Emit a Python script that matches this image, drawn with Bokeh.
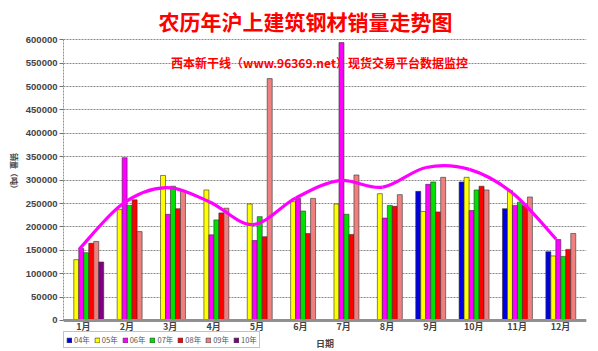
import numpy as np
from bokeh.plotting import figure
from bokeh.models import Range1d, FixedTicker, Label, Legend, LegendItem, NumeralTickFormatter
from bokeh.embed import file_html
from bokeh.resources import INLINE

# ---------------- data ----------------
months = ["1月", "2月", "3月", "4月", "5月", "6月", "7月", "8月", "9月", "10月", "11月", "12月"]
series_names = ["04年", "05年", "06年", "07年", "08年", "09年", "10年"]
nan = float("nan")
s04 = [0, 0, 0, 0, 0, 0, 0, 0, 276000, 296000, 239000, 147000]
s05 = [130000, 237000, 310000, 279000, 249000, 254000, 249000, 271000, 233000, 306000, 278000, 138000]
s06 = [154000, 348000, 227000, 183000, 171000, 261000, 594000, 219000, 291000, 235000, 246000, 173000]
s07 = [145000, 246000, 287000, 215000, 222000, 234000, 227000, 246000, 296000, 279000, 253000, 137000]
s08 = [165000, 258000, 239000, 230000, 179000, 186000, 184000, 244000, 232000, 287000, 245000, 152000]
s09 = [169000, 190000, 278000, 240000, 517000, 261000, 311000, 269000, 306000, 279000, 264000, 186000]
s10 = [125000, nan, nan, nan, nan, nan, nan, nan, nan, nan, nan, nan]
trend = [152000, 249000, 284000, 254000, 205000, 262000, 299000, 285000, 327000, 323000, 272000, 174000]
y_ticks = [0, 50000, 100000, 150000, 200000, 250000, 300000, 350000, 400000, 450000, 500000, 550000, 600000]

colors = ["#0000E0", "#FFFF00", "#FF00FF", "#00E000", "#FF0000", "#F08080", "#800080"]
all_series = [s04, s05, s06, s07, s08, s09, s10]

W, H = 598, 351
p = figure(width=W, height=H, output_backend="svg", toolbar_location=None,
           x_range=Range1d(0.54, 12.6), y_range=Range1d(-59880, 604900),
           min_border_left=62, min_border_right=12, min_border_top=37, min_border_bottom=3)
p.outline_line_color = None
p.background_fill_color = "white"
p.border_fill_color = "white"
p.styles = {"outline": "1px dotted #999999", "outline-offset": "-2px"}

p.title.text = "农历年沪上建筑钢材销量走势图"
p.title.align = "left"
p.title.offset = 95
p.title.standoff = 4
p.title.text_font = "Noto Sans CJK SC"
p.title.text_font_size = "21px"
p.title.text_font_style = "bold"
p.title.text_color = "#FF0000"

x_idx = np.arange(1, 13, dtype=float)
bw = 0.115
shift = 0.065
renderers = []
for i, (name, vals, c) in enumerate(zip(series_names, all_series, colors)):
    xs = x_idx + (i - 3) * bw + shift
    r = p.vbar(x=xs, top=np.array(vals, dtype=float), bottom=0, width=bw,
               fill_color=c, line_color="#303030", line_width=0.6)
    renderers.append((name, r))

# smooth trend line (Catmull-Rom -> bezier through the read points)
tx = x_idx - 0.1
ty = np.array(trend, dtype=float)
n = len(tx)
x0s, y0s, x1s, y1s, cx0s, cy0s, cx1s, cy1s = [], [], [], [], [], [], [], []
for i in range(n - 1):
    a = max(i - 1, 0)
    d = min(i + 2, n - 1)
    x0s.append(tx[i]); y0s.append(ty[i]); x1s.append(tx[i + 1]); y1s.append(ty[i + 1])
    cx0s.append(tx[i] + (tx[i + 1] - tx[a]) / 6); cy0s.append(ty[i] + (ty[i + 1] - ty[a]) / 6)
    cx1s.append(tx[i + 1] - (tx[d] - tx[i]) / 6); cy1s.append(ty[i + 1] - (ty[d] - ty[i]) / 6)
p.bezier(x0=x0s, y0=y0s, x1=x1s, y1=y1s, cx0=cx0s, cy0=cy0s, cx1=cx1s, cy1=cy1s,
         line_color="#FF00FF", line_width=3.2)

# axes
xax = p.xaxis[0]
xax.fixed_location = 0
xax.ticker = FixedTicker(ticks=list(range(1, 13)))
xax.major_label_overrides = {i + 1: m for i, m in enumerate(months)}
xax.major_tick_line_color = None
xax.major_tick_out = 0
xax.major_tick_in = 0
xax.minor_tick_line_color = None
xax.axis_line_color = "#909090"
xax.axis_line_width = 3
xax.major_label_text_font = "Noto Sans CJK SC"
xax.major_label_text_font_size = "9px"
xax.major_label_text_font_style = "bold"
xax.major_label_standoff = 0
xax.axis_label = "日期"
xax.axis_label_text_font = "Noto Sans CJK SC"
xax.axis_label_text_font_size = "9px"
xax.axis_label_text_font_style = "bold"
xax.axis_label_standoff = 0

yax = p.yaxis[0]
yax.bounds = (0, 600000)
yax.ticker = FixedTicker(ticks=y_ticks)
yax.formatter = NumeralTickFormatter(format="0")
yax.axis_line_color = "#909090"
yax.axis_line_dash = "2 1"
yax.major_tick_line_color = "#707070"
yax.major_tick_out = 4
yax.major_tick_in = 0
yax.minor_tick_line_color = None
yax.major_label_text_font = "Liberation Sans"
yax.major_label_text_font_size = "9.5px"
yax.major_label_text_font_style = "bold"
yax.major_label_standoff = 2
yax.axis_label = "销量（吨）"
yax.axis_label_text_font = "Noto Sans CJK SC"
yax.axis_label_text_font_size = "8px"
yax.axis_label_text_font_style = "bold"
yax.axis_label_standoff = 8
if "axis_label_orientation" in yax.properties():
    yax.axis_label_orientation = -np.pi / 2

p.xgrid.grid_line_color = None
p.ygrid.grid_line_color = "#8a8a8a"
p.ygrid.grid_line_dash = "2 1"
p.ygrid.grid_line_width = 1

# subtitle inside the plot area
p.add_layout(Label(x=256, y=286, x_units="screen", y_units="screen",
                   text="西本新干线（www.96369.net）现货交易平台数据监控",
                   text_font="Noto Sans CJK SC", text_font_size="12px", text_font_style="bold",
                   text_color="#FF0000", text_align="center", text_baseline="middle"))

legend = Legend(items=[LegendItem(label=nm, renderers=[r]) for nm, r in renderers],
                orientation="horizontal", location=(0, 0),
                glyph_width=6, glyph_height=6, label_width=14, label_height=7,
                label_standoff=2, spacing=4, padding=2, margin=0,
                label_text_font="Noto Sans CJK SC", label_text_font_size="7.5px",
                label_text_color="#555555", border_line_color="#888888",
                background_fill_color="white", background_fill_alpha=1)
p.add_layout(legend, "center")

open("out.html", "w").write(file_html(p, INLINE))
